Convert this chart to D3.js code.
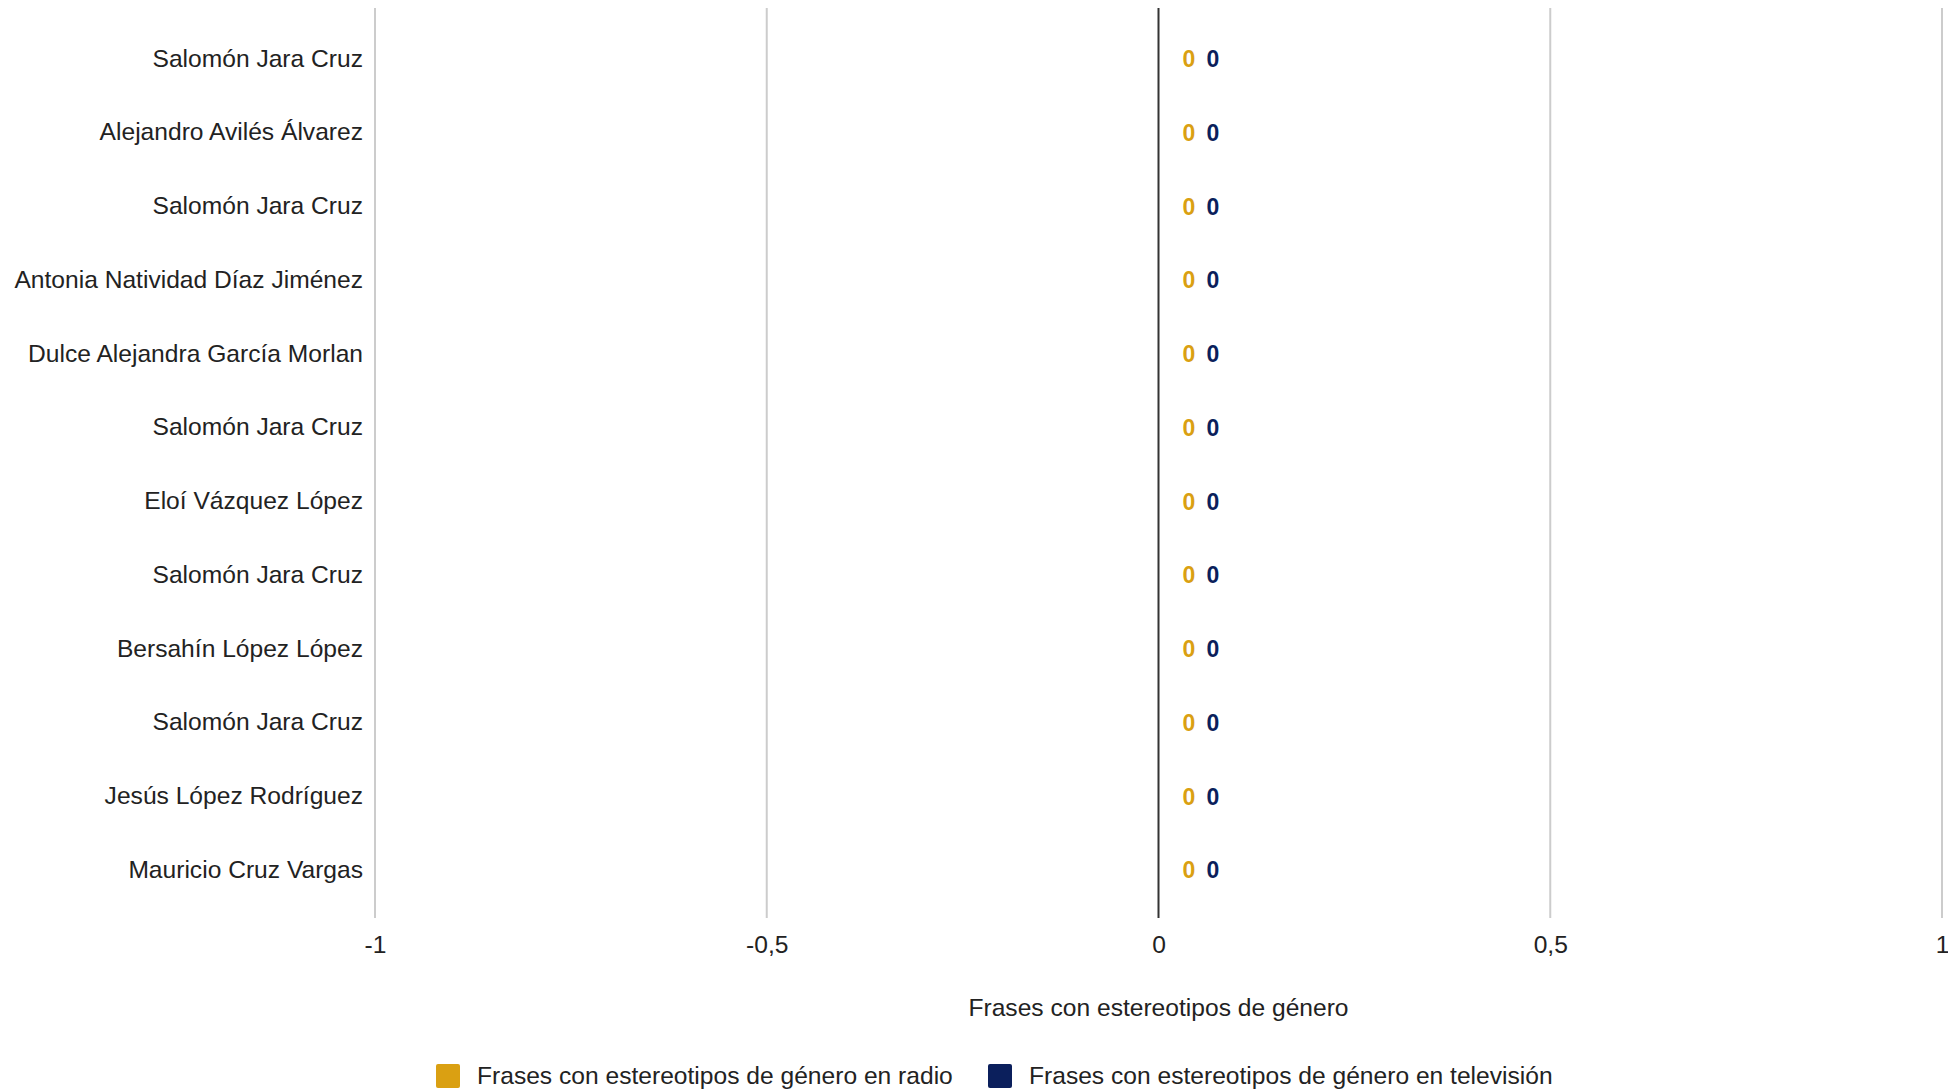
<!DOCTYPE html>
<html>
<head>
<meta charset="utf-8">
<script src="https://cdn.jsdelivr.net/npm/d3@7"></script>
<style>
  html, body { margin: 0; padding: 0; background: #fff; }
  svg { display: block; font-family: "Liberation Sans", Arial, sans-serif; }
</style>
</head>
<body>
<svg id="chart" width="1948" height="1091"></svg>
<script>
const categories = [
  "Salomón Jara Cruz",
  "Alejandro Avilés Álvarez",
  "Salomón Jara Cruz",
  "Antonia Natividad Díaz Jiménez",
  "Dulce Alejandra García Morlan",
  "Salomón Jara Cruz",
  "Eloí Vázquez López",
  "Salomón Jara Cruz",
  "Bersahín López López",
  "Salomón Jara Cruz",
  "Jesús López Rodríguez",
  "Mauricio Cruz Vargas"
];
const radioValues = [0, 0, 0, 0, 0, 0, 0, 0, 0, 0, 0, 0];
const tvValues    = [0, 0, 0, 0, 0, 0, 0, 0, 0, 0, 0, 0];
const tickValues  = [-1, -0.5, 0, 0.5, 1];
const tickLabels  = ["-1", "-0,5", "0", "0,5", "1"];
const seriesNames = [
  "Frases con estereotipos de género en radio",
  "Frases con estereotipos de género en televisión"
];
const seriesColors = ["#DAA012", "#0B1F5C"];
const xTitle = "Frases con estereotipos de género";

(function () {
const svg = d3.select("#chart");
const plotLeft = 375, plotRight = 1942, plotTop = 8, plotBottom = 918;
const FS = 24.6;
const FF = "'Liberation Sans', Arial, sans-serif";

const x = d3.scaleLinear().domain([-1, 1]).range([plotLeft, plotRight]);
const y = d3.scaleBand().domain(d3.range(categories.length)).range([21, 906]);

// gridlines
svg.append("g").selectAll("line")
  .data(tickValues.filter(v => v !== 0))
  .join("line")
  .attr("x1", d => x(d)).attr("x2", d => x(d))
  .attr("y1", plotTop).attr("y2", plotBottom)
  .attr("stroke", "#cccccc").attr("stroke-width", 2);

// baseline at zero
svg.append("line")
  .attr("x1", x(0)).attr("x2", x(0))
  .attr("y1", plotTop).attr("y2", plotBottom)
  .attr("stroke", "#333333").attr("stroke-width", 2);

// x axis tick labels
const xAxis = d3.axisBottom(x).tickValues(tickValues)
  .tickFormat((d, i) => tickLabels[i]).tickSize(0).tickPadding(0);
const gx = svg.append("g").attr("transform", `translate(0, ${plotBottom})`).call(xAxis);
gx.attr("font-family", FF);
gx.select(".domain").remove();
gx.selectAll("text")
  .attr("y", 26).attr("dy", "0.35em")
  .attr("font-size", FS).attr("fill", "#222");

// y axis category labels
const yAxis = d3.axisLeft(y).tickFormat(i => categories[i]).tickSize(0).tickPadding(0);
const gy = svg.append("g").attr("transform", `translate(363, 0)`).call(yAxis);
gy.attr("font-family", FF);
gy.select(".domain").remove();
gy.selectAll("text")
  .attr("x", 0).attr("dy", "0.35em")
  .attr("font-size", FS).attr("fill", "#222");

// bars (zero length) + value labels
const series = [radioValues, tvValues];
const labelOffsets = [24, 48];
series.forEach((vals, s) => {
  const g = svg.append("g");
  g.selectAll("rect")
    .data(vals)
    .join("rect")
    .attr("x", d => Math.min(x(0), x(d)))
    .attr("width", d => Math.abs(x(d) - x(0)))
    .attr("y", (d, i) => y(i) + y.bandwidth() * 0.2 + s * y.bandwidth() * 0.3)
    .attr("height", y.bandwidth() * 0.3)
    .attr("fill", seriesColors[s]);
  g.selectAll("text")
    .data(vals)
    .join("text")
    .attr("x", d => x(d) + labelOffsets[s])
    .attr("y", (d, i) => y(i) + y.bandwidth() / 2 + 1)
    .attr("dy", "0.36em")
    .attr("font-size", 23).attr("font-weight", "bold")
    .attr("fill", seriesColors[s])
    .text(d => d3.format("d")(d));
});

// axis title
svg.append("text")
  .attr("x", x(0)).attr("y", 1007).attr("dy", "0.35em")
  .attr("text-anchor", "middle")
  .attr("font-size", FS).attr("fill", "#222")
  .text(xTitle);

// legend
const legendItems = [
  { sx: 436, tx: 477 },
  { sx: 988, tx: 1029 }
];
const lg = svg.append("g");
legendItems.forEach((it, i) => {
  lg.append("rect")
    .attr("x", it.sx).attr("y", 1064)
    .attr("width", 24).attr("height", 24)
    .attr("rx", 2).attr("ry", 2)
    .attr("fill", seriesColors[i]);
  lg.append("text")
    .attr("x", it.tx).attr("y", 1075).attr("dy", "0.35em")
    .attr("font-size", FS).attr("fill", "#222")
    .text(seriesNames[i]);
});
})();
</script>
</body>
</html>
